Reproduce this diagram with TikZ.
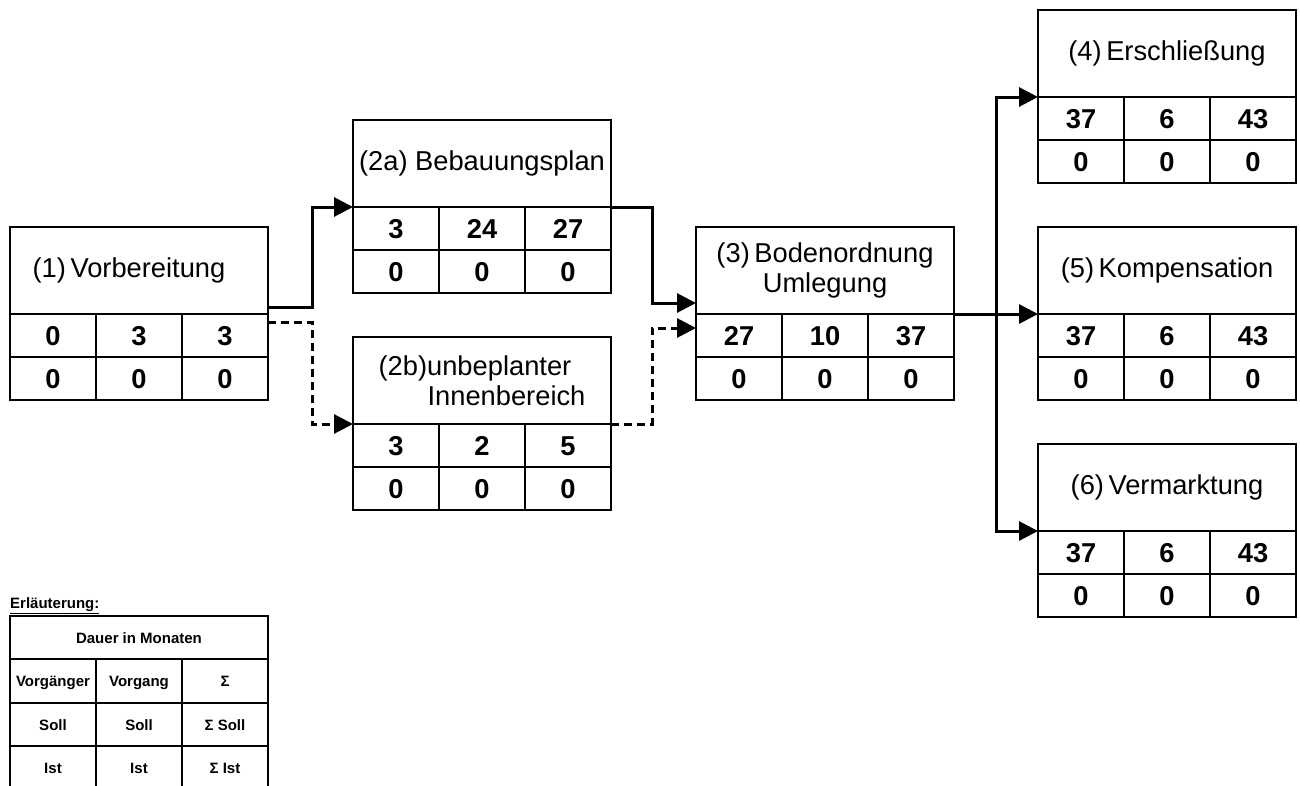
\documentclass[tikz,border=0pt]{standalone}
\usepackage{fontspec}
\setmainfont{Liberation Sans}
\usetikzlibrary{positioning}
\usetikzlibrary{calc}
\usetikzlibrary{arrows.meta}

% Vorgangsknoten: Name, Lage, Titel, Soll (3 Werte), Ist (3 Werte)
\newcommand{\vgbox}[9]{%
  \node[titlebox, #2] (#1) {#3};
  \node[cell, below right=0pt of #1.south west] (#1-a) {#4};
  \node[cell, right=0pt of #1-a] (#1-b) {#5};
  \node[cell, right=0pt of #1-b] (#1-c) {#6};
  \node[cell, below=0pt of #1-a] (#1-d) {#7};
  \node[cell, right=0pt of #1-d] (#1-e) {#8};
  \node[cell, right=0pt of #1-e] (#1-f) {#9};
}

\begin{document}
\begin{tikzpicture}[
                x=1pt, y=-1pt,
                titlebox/.style={rectangle, draw, line width=1.4pt, outer sep=0pt, inner sep=2pt, minimum width=258pt, minimum height=87pt, align=center, font=\fontsize{27.3}{30}\selectfont},
                cell/.style={rectangle, draw, line width=1.4pt, outer sep=0pt, inner sep=2pt, minimum width=86pt, minimum height=43pt, text height=19.6pt, text depth=0pt, font=\fontsize{27.3}{30}\selectfont\bfseries},
                legcell/.style={rectangle, draw, line width=1.4pt, outer sep=0pt, inner sep=1pt, minimum width=86pt, minimum height=43pt, text height=11pt, text depth=0pt, font=\fontsize{15}{18}\selectfont\bfseries},
                flow/.style={line width=3pt, -{Triangle[length=19pt, width=19pt]}},
                altflow/.style={flow, dash pattern=on 8pt off 5pt}
            ]
            \useasboundingbox (0,0) rectangle (1300,785);
            % Vorgaenge
            \vgbox{vorb}{anchor=north west, at={(10,227)}}{(1)\,Vorbereitung\hspace*{20pt}}{0}{3}{3}{0}{0}{0}
            \vgbox{bplan}{anchor=north west, at={(353,120)}}{(2a) Bebauungsplan}{3}{24}{27}{0}{0}{0}
            \vgbox{innen}{anchor=north west, at={(353,337)}, align=left}{(2b)unbeplanter\\\hspace*{49pt}Innenbereich}{3}{2}{5}{0}{0}{0}
            \vgbox{boden}{anchor=north west, at={(696,227)}}{(3)\,Bodenordnung\\Umlegung}{27}{10}{37}{0}{0}{0}
            \vgbox{komp}{right=84pt of boden}{(5)\,Kompensation}{37}{6}{43}{0}{0}{0}
            \vgbox{ersch}{above=130pt of komp}{(4)\,Erschließung}{37}{6}{43}{0}{0}{0}
            \vgbox{verm}{below=130pt of komp}{(6)\,Vermarktung}{37}{6}{43}{0}{0}{0}
            % Verbindungen
            \draw[flow] ([yshift=7pt]vorb.south east) -- ++(44,0) |- (bplan.south west);
            \draw[altflow] ([yshift=-8pt]vorb.south east) -- ++(44,0) |- (innen.south west);
            \draw[flow] (bplan.south east) -- ++(41,0) |- ([yshift=11pt]boden.south west);
            \draw[altflow] (innen.south east) -- ++(41,0) |- ([yshift=-14pt]boden.south west);
            \coordinate (split) at ($(boden.south east)!0.5!(komp.south west)$);
            \draw[flow] (boden.south east) -- (komp.south west);
            \draw[flow] (split) |- (ersch.south west);
            \draw[flow] (split) |- (verm.south west);
            % Erlaeuterung
            \node[font=\fontsize{15}{18}\selectfont\bfseries, anchor=south west, inner sep=0pt] (leghead) at (10,614) {\underline{Erläuterung:}};
            \node[legcell, minimum width=258pt, anchor=north west] (dauer) at (10,616) {Dauer in Monaten};
            \node[legcell, minimum height=44pt, below right=0pt of dauer.south west] (vg) {Vorgänger};
            \node[legcell, minimum height=44pt, right=0pt of vg] (vgang) {Vorgang};
            \node[legcell, minimum height=44pt, right=0pt of vgang] (summe) {Σ};
            \node[legcell, below=0pt of vg] (soll1) {Soll};
            \node[legcell, right=0pt of soll1] (soll2) {Soll};
            \node[legcell, right=0pt of soll2] (soll3) {Σ Soll};
            \node[legcell, below=0pt of soll1] (ist1) {Ist};
            \node[legcell, right=0pt of ist1] (ist2) {Ist};
            \node[legcell, right=0pt of ist2] (ist3) {Σ Ist};
\end{tikzpicture}
\end{document}
